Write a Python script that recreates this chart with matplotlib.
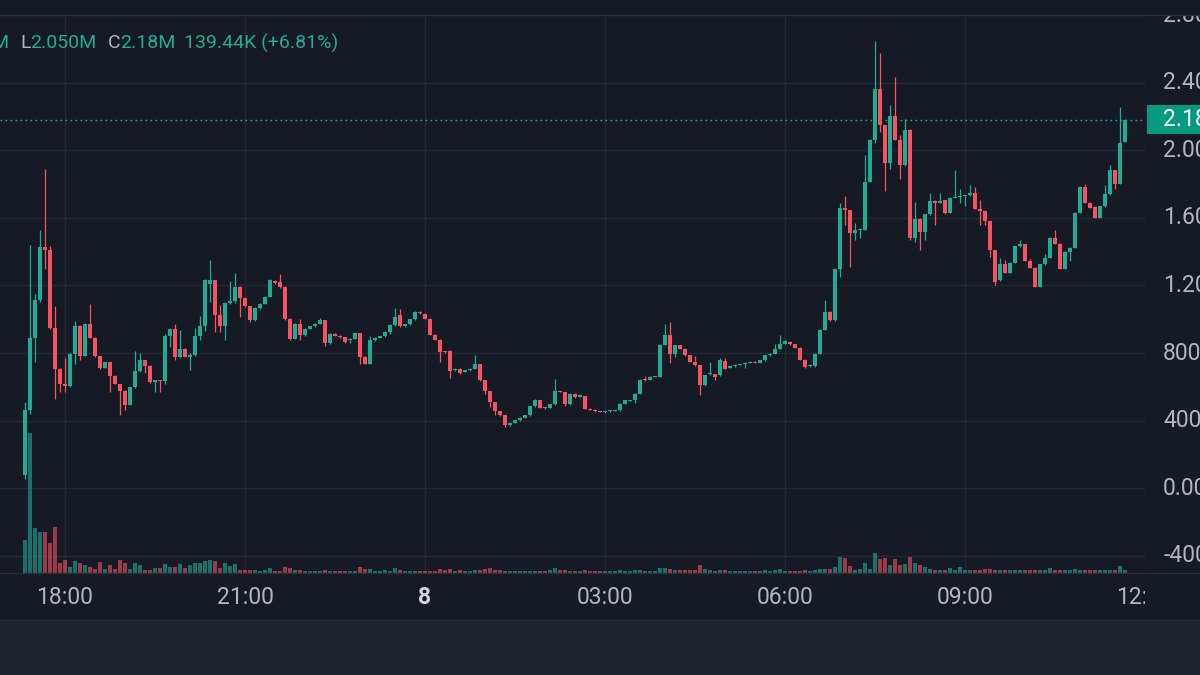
import matplotlib
matplotlib.use("Agg")
import matplotlib.pyplot as plt
from matplotlib.patches import Rectangle
from matplotlib.lines import Line2D
import numpy as np

plt.rcParams['font.family'] = ['Roboto', 'DejaVu Sans']

# ---------------- data (prices in millions, 5-minute candles) ----------------
first_slot = -8   # first candle = 17:20 (slots of 5 min relative to 18:00)

opens = [
    0.077, 0.465, 0.890, 1.112, 1.428, 1.408, 0.949, 0.704, 0.615, 0.604,
    0.797, 0.961, 0.783, 0.970, 0.892, 0.781, 0.714, 0.748, 0.665, 0.619,
    0.574, 0.491, 0.600, 0.694, 0.757, 0.724, 0.630, 0.639, 0.633, 0.899,
    0.945, 0.777, 0.822, 0.777, 0.791, 0.900, 0.959, 1.211, 1.231, 1.028,
    0.959, 1.097, 1.108, 1.191, 1.128, 1.077, 0.994, 1.067, 1.093, 1.132,
    1.227, 1.220, 1.191, 1.004, 0.886, 0.970, 0.905, 0.945, 0.959, 0.974,
    0.994, 0.860, 0.915, 0.903, 0.895, 0.876, 0.886, 0.919, 0.777, 0.738,
    0.876, 0.892, 0.900, 0.925, 0.964, 1.024, 0.959, 0.970, 1.000, 1.043,
    1.030, 1.004, 0.909, 0.880, 0.813, 0.813, 0.698, 0.708, 0.688, 0.698,
    0.708, 0.734, 0.639, 0.576, 0.511, 0.458, 0.432, 0.373, 0.389, 0.402,
    0.418, 0.432, 0.485, 0.521, 0.477, 0.477, 0.497, 0.576, 0.570, 0.497,
    0.560, 0.540, 0.546, 0.471, 0.465, 0.455, 0.453, 0.455, 0.458, 0.462,
    0.501, 0.517, 0.520, 0.560, 0.649, 0.643, 0.659, 0.659, 0.850, 0.905,
    0.797, 0.846, 0.826, 0.787, 0.748, 0.728, 0.609, 0.675, 0.675, 0.669,
    0.753, 0.714, 0.722, 0.732, 0.734, 0.742, 0.748, 0.742, 0.757, 0.787,
    0.797, 0.826, 0.856, 0.866, 0.852, 0.832, 0.761, 0.722, 0.722, 0.797,
    0.939, 1.043, 0.994, 1.298, 1.661, 1.645, 1.513, 1.527, 1.531, 1.813,
    2.063, 2.365, 2.148, 1.925, 2.201, 2.063, 1.911, 2.122, 1.483, 1.596,
    1.517, 1.621, 1.700, 1.688, 1.704, 1.629, 1.720, 1.724, 1.728, 1.734,
    1.748, 1.655, 1.641, 1.582, 1.408, 1.231, 1.329, 1.274, 1.333, 1.432,
    1.444, 1.345, 1.306, 1.191, 1.325, 1.365, 1.483, 1.448, 1.300, 1.398,
    1.424, 1.629, 1.783, 1.688, 1.665, 1.600, 1.669, 1.740, 1.882, 1.803,
    2.050,
]
highs = [
    0.511, 1.442, 1.152, 1.531, 1.888, 1.432, 1.079, 0.710, 0.773, 0.800,
    0.990, 0.965, 0.975, 1.089, 0.895, 0.785, 0.750, 0.750, 0.670, 0.620,
    0.580, 0.600, 0.813, 0.801, 0.760, 0.730, 0.643, 0.643, 0.915, 0.950,
    0.970, 0.935, 0.830, 0.800, 0.951, 1.018, 1.240, 1.349, 1.235, 1.083,
    1.100, 1.227, 1.274, 1.195, 1.130, 1.080, 1.070, 1.095, 1.135, 1.241,
    1.230, 1.270, 1.195, 1.008, 0.975, 1.004, 0.948, 0.962, 0.976, 1.010,
    0.996, 0.918, 0.917, 0.906, 0.897, 0.890, 0.922, 0.921, 0.780, 0.900,
    0.895, 0.903, 0.928, 0.972, 1.065, 1.063, 0.973, 1.003, 1.046, 1.046,
    1.035, 1.006, 0.912, 0.882, 0.815, 0.816, 0.712, 0.711, 0.700, 0.711,
    0.791, 0.736, 0.641, 0.578, 0.513, 0.460, 0.434, 0.392, 0.404, 0.420,
    0.434, 0.487, 0.530, 0.523, 0.479, 0.499, 0.649, 0.578, 0.572, 0.562,
    0.562, 0.556, 0.548, 0.473, 0.467, 0.460, 0.458, 0.462, 0.466, 0.503,
    0.525, 0.523, 0.563, 0.646, 0.663, 0.662, 0.666, 0.853, 0.974, 0.984,
    0.850, 0.848, 0.828, 0.789, 0.780, 0.730, 0.672, 0.748, 0.677, 0.770,
    0.772, 0.725, 0.735, 0.737, 0.745, 0.751, 0.751, 0.760, 0.790, 0.800,
    0.856, 0.905, 0.875, 0.869, 0.855, 0.835, 0.763, 0.735, 0.800, 0.942,
    1.112, 1.046, 1.300, 1.688, 1.730, 1.648, 1.570, 1.540, 1.970, 2.066,
    2.647, 2.576, 2.151, 2.266, 2.434, 2.088, 2.187, 2.125, 1.694, 1.599,
    1.624, 1.748, 1.703, 1.748, 1.708, 1.723, 1.882, 1.770, 1.737, 1.793,
    1.783, 1.705, 1.644, 1.585, 1.411, 1.363, 1.349, 1.336, 1.435, 1.467,
    1.447, 1.359, 1.309, 1.328, 1.389, 1.486, 1.530, 1.451, 1.401, 1.427,
    1.632, 1.786, 1.799, 1.691, 1.668, 1.672, 1.793, 1.911, 1.885, 2.256,
    2.185,
]
lows = [
    0.057, 0.442, 0.748, 1.100, 1.300, 0.940, 0.531, 0.570, 0.570, 0.600,
    0.738, 0.757, 0.780, 0.890, 0.775, 0.705, 0.710, 0.570, 0.615, 0.432,
    0.462, 0.490, 0.595, 0.690, 0.684, 0.625, 0.570, 0.570, 0.620, 0.836,
    0.761, 0.770, 0.775, 0.702, 0.780, 0.880, 0.930, 1.100, 0.925, 0.925,
    0.876, 1.090, 1.095, 1.014, 1.070, 0.984, 0.990, 1.060, 1.090, 1.130,
    1.210, 1.185, 0.995, 0.880, 0.882, 0.880, 0.900, 0.942, 0.955, 0.970,
    0.842, 0.856, 0.900, 0.892, 0.862, 0.860, 0.884, 0.738, 0.735, 0.735,
    0.870, 0.888, 0.896, 0.915, 0.960, 0.955, 0.955, 0.968, 0.998, 1.034,
    1.000, 0.905, 0.876, 0.748, 0.803, 0.655, 0.695, 0.679, 0.686, 0.696,
    0.705, 0.636, 0.560, 0.481, 0.432, 0.428, 0.360, 0.370, 0.386, 0.400,
    0.416, 0.430, 0.483, 0.475, 0.472, 0.475, 0.495, 0.568, 0.485, 0.495,
    0.536, 0.538, 0.468, 0.462, 0.452, 0.450, 0.448, 0.452, 0.455, 0.460,
    0.498, 0.515, 0.505, 0.558, 0.636, 0.640, 0.656, 0.657, 0.846, 0.742,
    0.775, 0.823, 0.785, 0.745, 0.725, 0.550, 0.606, 0.672, 0.640, 0.666,
    0.705, 0.711, 0.720, 0.729, 0.714, 0.740, 0.739, 0.740, 0.754, 0.785,
    0.795, 0.823, 0.853, 0.849, 0.829, 0.758, 0.714, 0.716, 0.719, 0.794,
    0.936, 0.990, 0.990, 1.250, 1.556, 1.310, 1.470, 1.480, 1.528, 1.810,
    2.040, 2.108, 1.759, 1.890, 2.060, 1.832, 1.908, 1.470, 1.458, 1.408,
    1.470, 1.618, 1.556, 1.685, 1.625, 1.626, 1.717, 1.690, 1.669, 1.731,
    1.652, 1.560, 1.556, 1.369, 1.200, 1.228, 1.271, 1.271, 1.330, 1.429,
    1.342, 1.303, 1.188, 1.188, 1.322, 1.362, 1.445, 1.297, 1.297, 1.345,
    1.421, 1.626, 1.685, 1.658, 1.597, 1.597, 1.666, 1.737, 1.773, 1.800,
    2.050,
]
closes = [
    0.465, 0.890, 1.112, 1.428, 1.408, 0.949, 0.704, 0.615, 0.604, 0.797,
    0.961, 0.783, 0.970, 0.892, 0.781, 0.714, 0.748, 0.665, 0.619, 0.574,
    0.491, 0.600, 0.694, 0.757, 0.724, 0.630, 0.639, 0.633, 0.899, 0.945,
    0.777, 0.822, 0.777, 0.791, 0.900, 0.959, 1.231, 1.231, 1.028, 0.959,
    1.097, 1.108, 1.191, 1.128, 1.077, 0.994, 1.067, 1.093, 1.132, 1.231,
    1.215, 1.191, 1.000, 0.886, 0.970, 0.905, 0.945, 0.959, 0.974, 0.994,
    0.860, 0.915, 0.903, 0.895, 0.866, 0.886, 0.919, 0.777, 0.738, 0.876,
    0.892, 0.900, 0.925, 0.964, 1.014, 0.959, 0.970, 1.000, 1.043, 1.037,
    1.004, 0.909, 0.880, 0.807, 0.807, 0.692, 0.708, 0.682, 0.698, 0.708,
    0.734, 0.639, 0.576, 0.511, 0.458, 0.432, 0.373, 0.389, 0.402, 0.418,
    0.432, 0.485, 0.525, 0.477, 0.475, 0.497, 0.576, 0.570, 0.497, 0.560,
    0.540, 0.550, 0.471, 0.465, 0.455, 0.453, 0.455, 0.458, 0.462, 0.501,
    0.521, 0.521, 0.560, 0.643, 0.643, 0.659, 0.663, 0.850, 0.905, 0.797,
    0.846, 0.826, 0.787, 0.748, 0.728, 0.609, 0.669, 0.678, 0.659, 0.757,
    0.708, 0.722, 0.732, 0.734, 0.742, 0.748, 0.742, 0.757, 0.787, 0.797,
    0.826, 0.856, 0.872, 0.852, 0.832, 0.761, 0.718, 0.728, 0.797, 0.939,
    1.043, 0.994, 1.298, 1.661, 1.645, 1.513, 1.527, 1.536, 1.813, 2.063,
    2.365, 2.148, 1.925, 2.201, 2.063, 1.911, 2.122, 1.483, 1.596, 1.517,
    1.621, 1.700, 1.688, 1.700, 1.629, 1.720, 1.724, 1.728, 1.734, 1.748,
    1.655, 1.641, 1.582, 1.408, 1.221, 1.329, 1.274, 1.333, 1.432, 1.444,
    1.345, 1.306, 1.191, 1.325, 1.365, 1.483, 1.448, 1.300, 1.398, 1.424,
    1.629, 1.783, 1.688, 1.661, 1.600, 1.669, 1.740, 1.882, 1.803, 2.041,
    2.180,
]
volumes = [
    33, 140, 45, 41, 41, 30, 46, 10, 13, 6,
    12, 10, 8, 6, 4, 11, 4, 8, 4, 13,
    10, 4, 10, 8, 3, 3, 5, 5, 9, 6,
    6, 9, 5, 8, 10, 10, 12, 13, 12, 5,
    10, 7, 9, 3, 3, 3, 3, 2, 3, 5,
    2, 2, 6, 5, 3, 3, 2, 2, 2, 2,
    3, 2, 2, 2, 2, 2, 2, 6, 4, 4,
    2, 2, 3, 2, 5, 3, 2, 2, 2, 2,
    2, 2, 2, 4, 3, 4, 2, 3, 2, 2,
    3, 3, 4, 5, 3, 3, 2, 2, 2, 2,
    2, 2, 2, 2, 2, 3, 5, 3, 3, 2,
    2, 2, 3, 2, 2, 2, 2, 2, 2, 3,
    2, 2, 3, 3, 2, 2, 2, 5, 5, 4,
    3, 3, 3, 3, 3, 8, 4, 3, 2, 3,
    3, 2, 2, 2, 2, 2, 2, 2, 3, 2,
    3, 4, 2, 2, 2, 2, 3, 2, 3, 4,
    4, 4, 6, 16, 15, 7, 3, 4, 10, 4,
    20, 14, 15, 8, 14, 8, 9, 16, 10, 8,
    6, 4, 3, 3, 3, 5, 3, 6, 3, 3,
    3, 3, 4, 4, 3, 3, 3, 3, 3, 3,
    3, 3, 3, 3, 3, 5, 3, 3, 3, 3,
    4, 3, 3, 3, 3, 3, 3, 3, 3, 7,
    3,
]

price_ticks = [2.8, 2.4, 2.0, 1.6, 1.2, 0.8, 0.4, 0.0, -0.4]
price_tick_labels = ['2.80M', '2.40M', '2.00M', '1.60M', '1.20M',
                     '800.00K', '400.00K', '0.00', '-400.00K']
time_ticks = [0, 36, 72, 108, 144, 180, 216]
time_tick_labels = ['18:00', '21:00', '8', '03:00', '06:00', '09:00', '12:00']
last_price = 2.18
last_price_label = '2.18M'
legend_low = '2.050M'
legend_close = '2.18M'
legend_change = '139.44K (+6.81%)'

# ---------------- styling ----------------
W, H = 1200, 675
BG = '#161a25'
GRID = '#242833'
UP = '#22ab94'
DOWN = '#f7525f'
TXT = '#b2b5be'

fig = plt.figure(figsize=(W / 100, H / 100), dpi=100)
fig.patch.set_facecolor(BG)


def fx(px):
    return px / W


def fy(py):
    return 1 - py / H


PANE_R, PANE_T, PANE_B = 1145, 15, 573
rect = [0, fy(PANE_B), fx(PANE_R), (PANE_B - PANE_T) / H]
XLIM = (-13, 216)
YLIM = (-0.501, 2.800)

x = np.arange(first_slot, first_slot + len(closes))
o = np.array(opens)
h = np.array(highs)
l = np.array(lows)
c = np.array(closes)
up = c >= o
colors = np.where(up, UP, DOWN)

# bottom band
fig.add_artist(Rectangle((0, 0), 1, fy(620), transform=fig.transFigure,
                         facecolor='#1e222d', edgecolor='none', zorder=0))
fig.add_artist(Line2D([0, 1], [fy(620), fy(620)], transform=fig.transFigure,
                      color='#2a2e39', lw=1))

# grid axes
axg = fig.add_axes(rect)
axg.set_xlim(*XLIM)
axg.set_ylim(*YLIM)
axg.axis('off')
for p in price_ticks:
    axg.axhline(p, color=GRID, lw=1)
for t in time_ticks:
    axg.axvline(t, color=GRID, lw=1)

# volume axes
axv = fig.add_axes(rect)
axv.set_xlim(*XLIM)
axv.set_ylim(0, PANE_B - PANE_T)
axv.axis('off')
axv.bar(x, volumes, width=0.8, color=colors, alpha=0.6, linewidth=0)

# candle axes
ax = fig.add_axes(rect)
ax.set_xlim(*XLIM)
ax.set_ylim(*YLIM)
ax.axis('off')
ax.vlines(x, l, h, colors=colors, lw=0.9)
body_bottom = np.minimum(o, c)
body_height = np.maximum(np.abs(c - o), 0.006)
ax.bar(x, body_height, bottom=body_bottom, width=0.8, color=colors, linewidth=0)
ax.axhline(last_price, color=UP, lw=1, ls=(0, (1.2, 2.4)))

# pane border lines
for py in (PANE_T, PANE_B):
    fig.add_artist(Line2D([0, 1], [fy(py), fy(py)], transform=fig.transFigure,
                          color='#2a2e39', lw=1))

# price scale panel
axr = fig.add_axes([fx(PANE_R), fy(PANE_B), 1 - fx(PANE_R), (PANE_B - PANE_T) / H])
axr.set_xlim(0, 1)
axr.set_ylim(*YLIM)
axr.axis('off')
LBL_X = 0.33
for p, lab in zip(price_ticks, price_tick_labels):
    axr.text(LBL_X, p, lab, color=TXT, fontsize=16.5, va='center', ha='left',
             clip_on=True)
axr.add_patch(Rectangle((0.04, last_price - 0.085), 1.0, 0.17,
                        facecolor='#089981', edgecolor='none', clip_on=True))
axr.text(LBL_X, last_price, last_price_label, color='white', fontsize=16.5,
         va='center', ha='left', clip_on=True)

# time scale panel
axt = fig.add_axes([0, fy(620), fx(PANE_R), (620 - PANE_B) / H])
axt.set_xlim(*XLIM)
axt.set_ylim(0, 1)
axt.axis('off')
for t, lab in zip(time_ticks, time_tick_labels):
    axt.text(t, (620 - 598) / (620 - PANE_B), lab,
             color='#d1d4dc' if lab == '8' else TXT,
             fontweight='bold' if lab == '8' else 'normal',
             fontsize=16.5, ha='center', va='center', clip_on=True)

# legend (cut off on the left like the screenshot)
ly = fy(43)
fig.text(fx(8.5), ly, 'M', color=UP, fontsize=14, ha='right', va='center')
fig.text(fx(20.5), ly, 'L', color=TXT, fontsize=14, ha='left', va='center')
fig.text(fx(30.5), ly, legend_low, color=UP, fontsize=14, ha='left', va='center')
fig.text(fx(108), ly, 'C', color=TXT, fontsize=14, ha='left', va='center')
fig.text(fx(120.5), ly, legend_close, color=UP, fontsize=14, ha='left', va='center')
fig.text(fx(184), ly, legend_change, color=UP, fontsize=14, ha='left', va='center')

fig.savefig('out.png', dpi=100, facecolor=BG)
